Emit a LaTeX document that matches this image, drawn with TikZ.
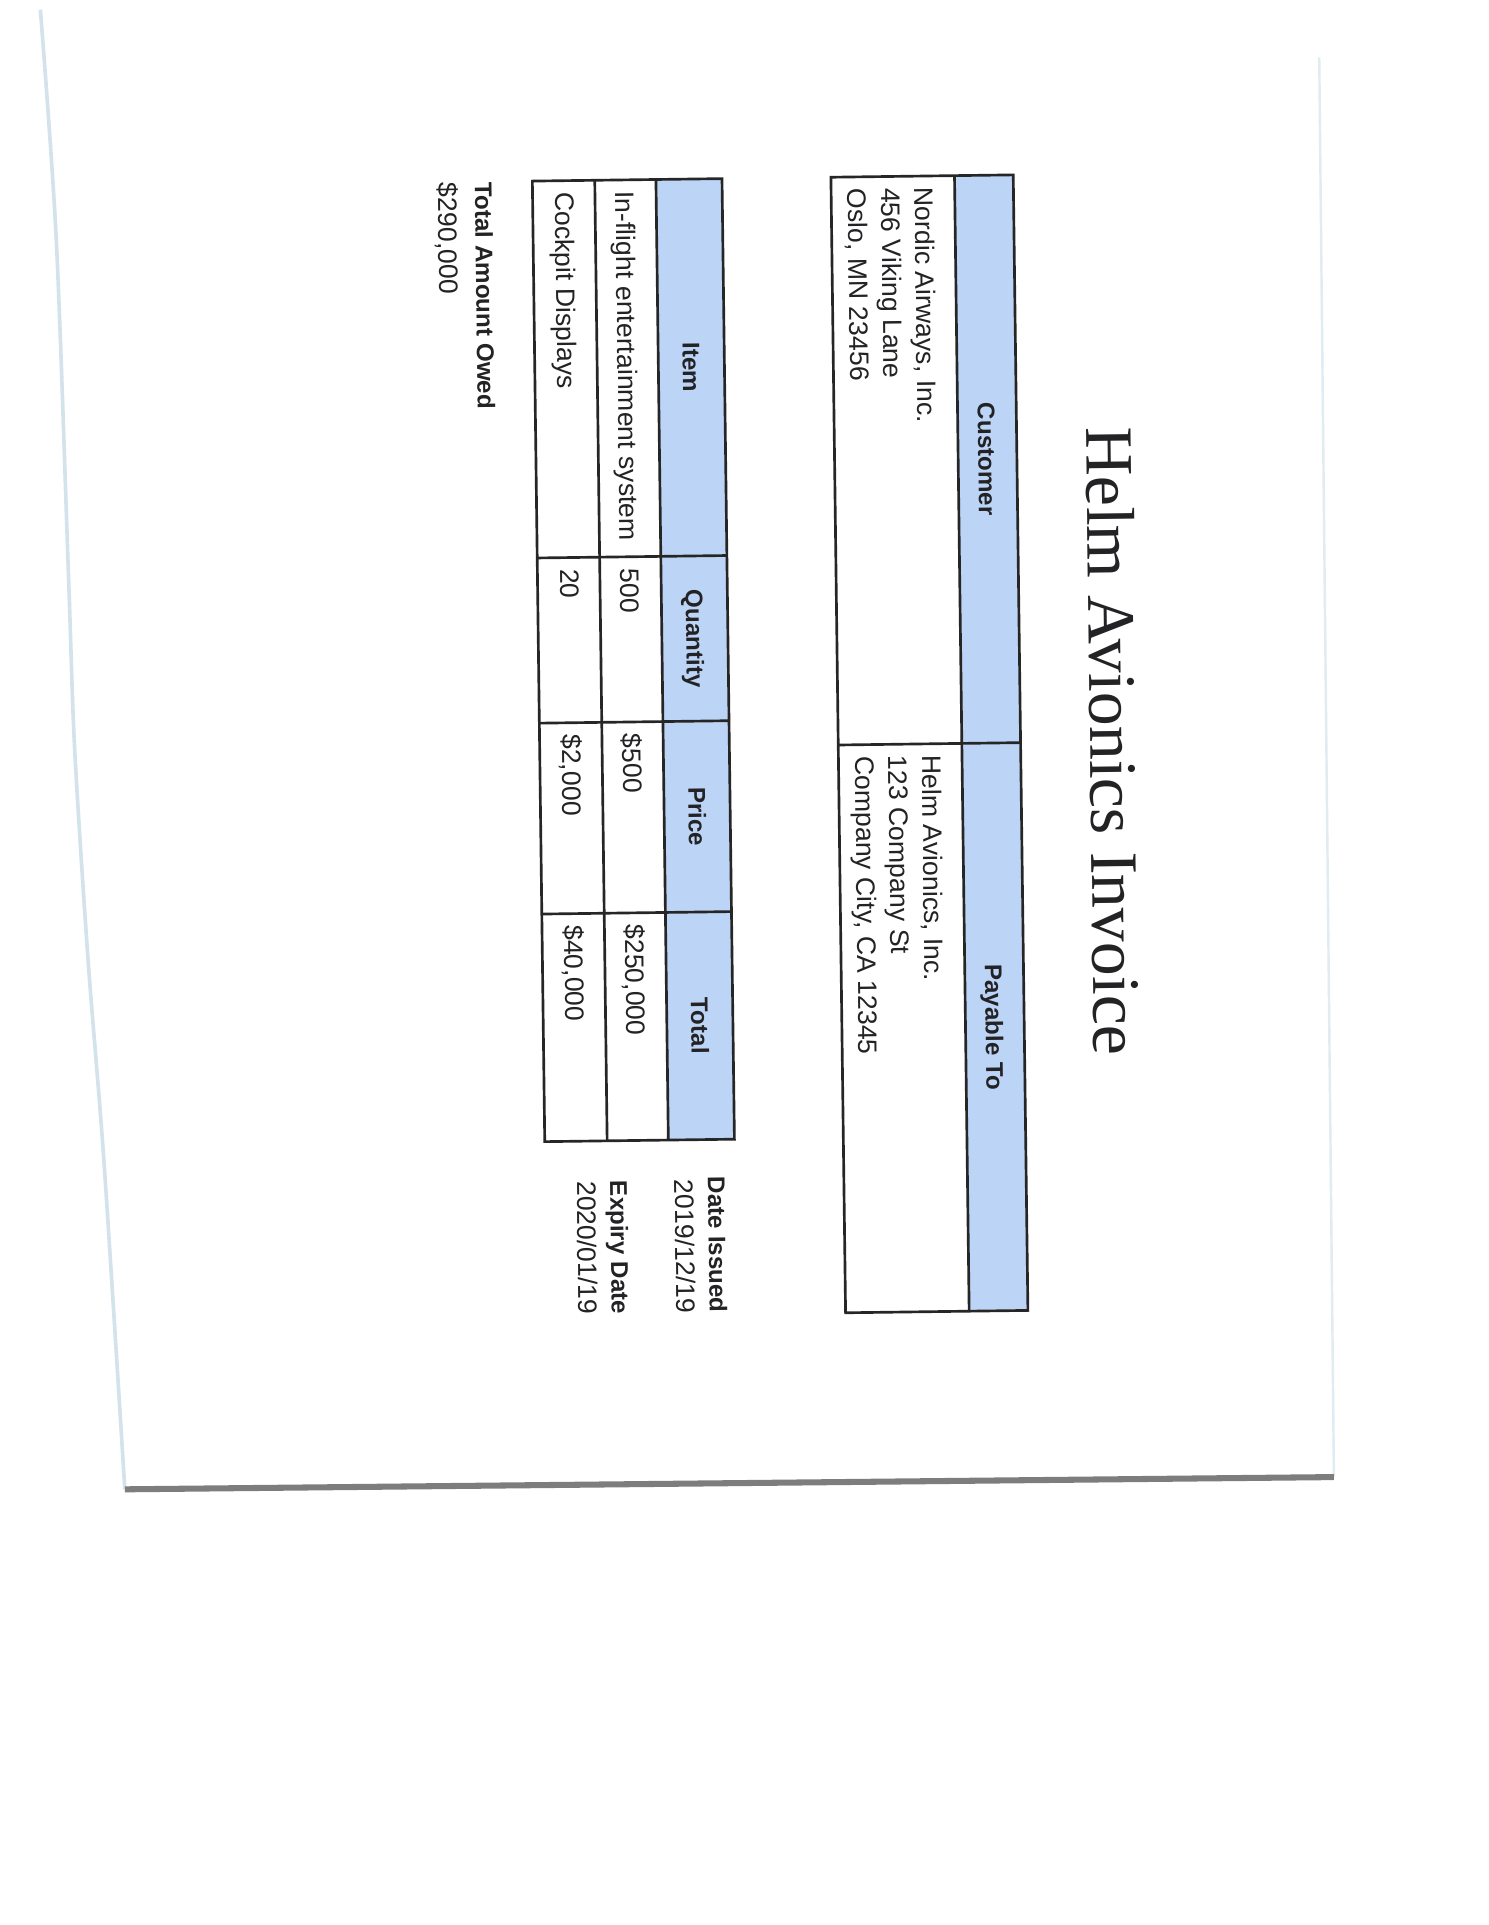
\documentclass[tikz,border=0pt]{standalone}
\usepackage{fontspec}
\setmainfont{Liberation Sans}
\newfontfamily\titlefont{Liberation Serif}
\definecolor{headblue}{RGB}{188,212,245}
\definecolor{edgegray}{RGB}{125,125,125}
\definecolor{edgeblue}{RGB}{212,226,236}
\definecolor{inkgray}{RGB}{35,35,38}
\tikzset{
  cell/.style={anchor=north west,inner sep=0pt,align=left},
  headtext/.style={anchor=base,inner sep=0pt,font=\bfseries},
  datetext/.style={anchor=base east,inner sep=0pt},
  rule/.style={line width=1.1pt,black!85},
}

\begin{document}
\begin{tikzpicture}[x=0.017755cm,y=0.017755cm,font=\fontsize{11}{13.8}\selectfont,text=inkgray]
        \useasboundingbox (0,0) rectangle (1216,1573);
        \fill[white] (0,0) rectangle (1216,1573);
        % edges of the scanned sheet
        \draw[edgeblue,line width=1.5] plot[smooth] coordinates {(33,1565) (46,1377) (56,1102) (61,961) (72,788) (85,623) (102,356)};
        \draw[edgeblue!70,line width=1] (1078,1526) -- (1090,366);
        \draw[edgegray,line width=2.5] (102,356) -- (1090,366);
        % the invoice, turned on the sheet
        \begin{scope}[shift={(435,1425)},rotate=-89.26,transform shape]
        \node[anchor=base,inner sep=0pt,font=\titlefont\fontsize{28}{32}\selectfont] (title) at (464,450) {Helm Avionics Invoice};
        % customer / payable table
        \fill[headblue] (0,345) rectangle (928,393);
        \draw[rule] (0,244) rectangle (928,393);
        \draw[rule] (0,345) -- (928,345);
        \draw[rule] (464,244) -- (464,393);
        \node[headtext] (customer) at (232,361.5) {Customer};
        \node[headtext] (payable) at (696,361.5) {Payable To};
        \node[cell] (custaddr) at (9,328.6) {Nordic Airways, Inc.\\456 Viking Lane\\Oslo, MN 23456};
        \node[cell] (payaddr) at (473,328.6) {Helm Avionics, Inc.\\123 Company St\\Company City, CA 12345};
        % items table
        \fill[headblue] (0,101) rectangle (785,155);
        \draw[rule] (0,0) rectangle (785,155);
        \draw[rule] (0,101) -- (785,101);
        \draw[rule] (0,51) -- (785,51);
        \foreach \x in {308,443,599} \draw[rule] (\x,0) -- (\x,155);
        \node[headtext] (item) at (154,121) {Item};
        \node[headtext] (qty) at (375.5,121) {Quantity};
        \node[headtext] (price) at (521,121) {Price};
        \node[headtext] (total) at (692,121) {Total};
        \node[cell,anchor=base west] (itema) at (9,68) {In-flight entertainment system};
        \node[cell,anchor=base west] (qtya) at (317,68) {500};
        \node[cell,anchor=base west] (pricea) at (452,68) {\$500};
        \node[cell,anchor=base west] (totala) at (608,68) {\$250,000};
        \node[cell,anchor=base west] (itemb) at (9,18.5) {Cockpit Displays};
        \node[cell,anchor=base west] (qtyb) at (317,18.5) {20};
        \node[cell,anchor=base west] (priceb) at (452,18.5) {\$2,000};
        \node[cell,anchor=base west] (totalb) at (608,18.5) {\$40,000};
        % dates
        \node[datetext,font=\bfseries] (issuedlbl) at (927,133) {Date Issued};
        \node[datetext] (issued) at (927,106) {2019/12/19};
        \node[datetext,font=\bfseries] (expirylbl) at (927,53) {Expiry Date};
        \node[datetext] (expiry) at (927,26) {2020/01/19};
        % amount owed
        \node[cell,anchor=base west,font=\bfseries] (owedlbl) at (0,-47) {Total Amount Owed};
        \node[cell,anchor=base west] (owed) at (0,-77) {\$290,000};
        \end{scope}
    \end{tikzpicture}
\end{document}
